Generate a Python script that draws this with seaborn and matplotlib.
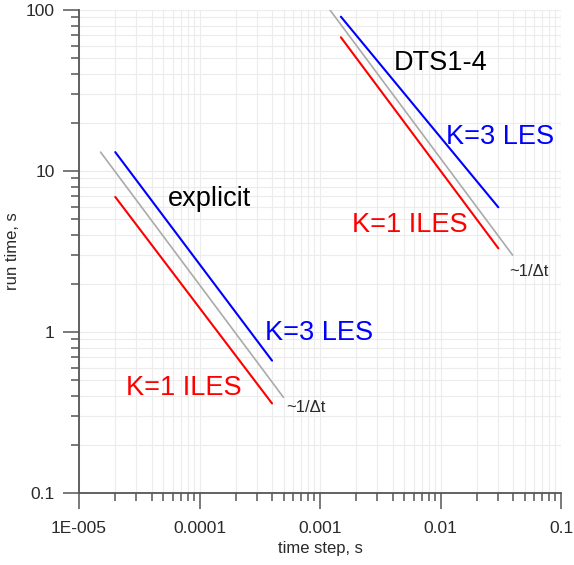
import matplotlib
matplotlib.use("Agg")
import matplotlib.pyplot as plt
import matplotlib.ticker as mticker
import numpy as np
import pandas as pd
import seaborn as sns

# Run time versus time step (log-log), explicit and DTS1-4 schemes
explicit_k3_dt = [2.0e-5, 4.0e-4]
explicit_k3_t = [13.1, 0.664]
explicit_k1_dt = [2.0e-5, 4.0e-4]
explicit_k1_t = [6.9, 0.36]
explicit_ref_dt = [1.51e-5, 4.97e-4]
explicit_ref_t = [13.1, 0.393]

dts_k3_dt = [1.49e-3, 0.0302]
dts_k3_t = [90.9, 5.95]
dts_k1_dt = [1.49e-3, 0.0302]
dts_k1_t = [67.7, 3.31]
dts_ref_dt = [1.21e-3, 0.0397]
dts_ref_t = [100.0, 3.0]

x_ticks = [1e-5, 1e-4, 1e-3, 1e-2, 1e-1]
x_tick_labels = ["1E-005", "0.0001", "0.001", "0.01", "0.1"]
y_ticks = [0.1, 1, 10, 100]
y_tick_labels = ["0.1", "1", "10", "100"]

BLUE = "#0000ff"
RED = "#ff0000"
GRAY = "#aaaaaa"
AXC = "#555555"
TXT = "#2a2a2a"

sns.set_style("white")
plt.rcParams["font.family"] = ["Liberation Sans", "DejaVu Sans"]

fig = plt.figure(figsize=(5.74, 5.65), dpi=100)
ax = fig.add_axes([79 / 574, 1 - 493 / 565, 482 / 574, 483 / 565])

lines = [
    (explicit_ref_dt, explicit_ref_t, GRAY, 1.2),
    (explicit_k3_dt, explicit_k3_t, BLUE, 1.5),
    (explicit_k1_dt, explicit_k1_t, RED, 1.5),
    (dts_ref_dt, dts_ref_t, GRAY, 1.2),
    (dts_k3_dt, dts_k3_t, BLUE, 1.5),
    (dts_k1_dt, dts_k1_t, RED, 1.5),
]
for xs, ys, c, lw in lines:
    df = pd.DataFrame({"dt": xs, "t": ys})
    sns.lineplot(data=df, x="dt", y="t", color=c, lw=lw, ax=ax, legend=False)

ax.set_xscale("log")
ax.set_yscale("log")
ax.set_xlim(1e-5, 1e-1)
ax.set_ylim(0.1, 100)

ax.set_xticks(x_ticks)
ax.set_xticklabels(x_tick_labels)
ax.set_yticks(y_ticks)
ax.set_yticklabels(y_tick_labels)
ax.xaxis.set_minor_locator(mticker.LogLocator(base=10, subs=np.arange(2, 10)))
ax.yaxis.set_minor_locator(mticker.LogLocator(base=10, subs=np.arange(2, 10)))
ax.xaxis.set_minor_formatter(mticker.NullFormatter())
ax.yaxis.set_minor_formatter(mticker.NullFormatter())

ax.grid(which="both", color="#ececec", lw=0.8)
ax.set_axisbelow(True)

for s in ["top", "right"]:
    ax.spines[s].set_visible(False)
for s in ["left", "bottom"]:
    ax.spines[s].set_color(AXC)
    ax.spines[s].set_linewidth(1.3)

ax.tick_params(which="major", direction="out", length=11.5, width=1.1,
               color=AXC, labelsize=12.5, labelcolor=TXT, pad=6,
               left=True, bottom=True)
ax.tick_params(axis="x", which="major", pad=8.5)
ax.tick_params(which="minor", direction="out", length=5.8, width=1.1,
               color=AXC, left=True, bottom=True)

ax.set_xlabel("time step, s", fontsize=12, color=TXT, labelpad=4)
ax.set_ylabel("run time, s", fontsize=12, color=TXT, labelpad=4)

ax.text(5.48e-5, 6.7, "explicit", fontsize=19.5, color="black", ha="left", va="center")
ax.text(3.5e-4, 0.986, "K=3 LES", fontsize=19.5, color=BLUE, ha="left", va="center")
ax.text(2.45e-5, 0.449, "K=1 ILES", fontsize=19.5, color=RED, ha="left", va="center")
ax.text(5.22e-4, 0.342, "~1/\u0394t", fontsize=12, color=TXT, ha="left", va="center")

ax.text(4.11e-3, 46.9, "DTS1-4", fontsize=19.5, color="black", ha="left", va="center")
ax.text(0.0111, 16.3, "K=3 LES", fontsize=19.5, color=BLUE, ha="left", va="center")
ax.text(1.85e-3, 4.62, "K=1 ILES", fontsize=19.5, color=RED, ha="left", va="center")
ax.text(0.037, 2.36, "~1/\u0394t", fontsize=12, color=TXT, ha="left", va="center")

fig.savefig("out.png", dpi=100)
